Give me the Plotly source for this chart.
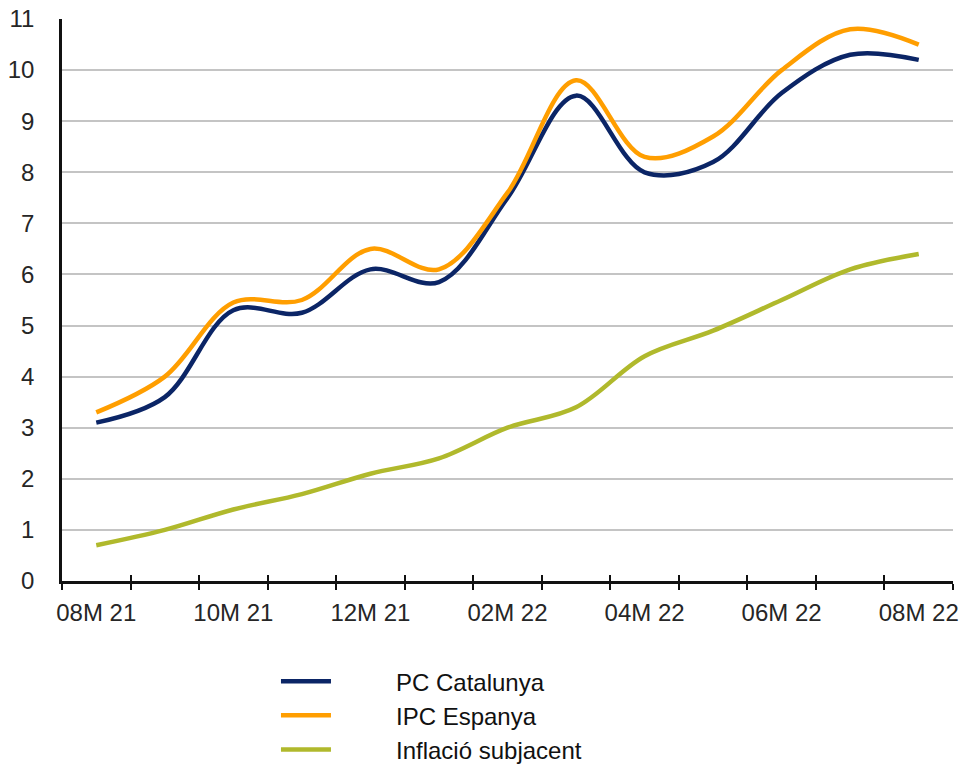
import plotly.graph_objects as go

months = ["08M 21", "09M 21", "10M 21", "11M 21", "12M 21", "01M 22", "02M 22",
          "03M 22", "04M 22", "05M 22", "06M 22", "07M 22", "08M 22"]
tick_text = [m if i % 2 == 0 else "" for i, m in enumerate(months)]
y_ticks = list(range(0, 12))
y_grid = list(range(1, 11))

pc_catalunya = [3.1, 3.6, 5.3, 5.25, 6.1, 5.85, 7.5, 9.5, 8.0, 8.2, 9.55, 10.3, 10.2]
ipc_espanya = [3.3, 4.0, 5.45, 5.5, 6.5, 6.1, 7.6, 9.8, 8.3, 8.7, 10.0, 10.8, 10.5]
inflacio_subjacent = [0.7, 1.0, 1.4, 1.7, 2.1, 2.4, 3.0, 3.4, 4.4, 4.9, 5.5, 6.1, 6.4]

series = [
    ("PC Catalunya", pc_catalunya, "#0B2566"),
    ("IPC Espanya", ipc_espanya, "#FF9E00"),
    ("Inflació subjacent", inflacio_subjacent, "#B0B92C"),
]

PAD = "\u00a0" * 9

fig = go.Figure()
for name, vals, color in series:
    fig.add_trace(go.Scatter(
        x=months, y=vals, name=PAD + name, mode="lines",
        line=dict(color=color, width=4.5, shape="spline", smoothing=1.0),
        legendgroup=name,
    ))

FAMILY = "Liberation Sans, Arial, sans-serif"
font = dict(family=FAMILY, size=24, color="#262626")

fig.update_layout(
    width=969, height=769,
    margin=dict(l=62, r=16, t=19, b=188, autoexpand=False),
    paper_bgcolor="white", plot_bgcolor="white",
    font=font,
    showlegend=True,
    legend=dict(
        xref="container", yref="container",
        x=0.2848, y=0.1430, xanchor="left", yanchor="top",
        font=dict(family=FAMILY, size=24, color="#111111"),
        itemwidth=50, tracegroupgap=0, bgcolor="rgba(0,0,0,0)",
    ),
    xaxis=dict(
        type="category", categoryorder="array", categoryarray=months,
        range=[-0.5, 12.5],
        tickvals=months, ticktext=tick_text, tickangle=0,
        tickson="boundaries", ticks="outside", ticklen=6, tickwidth=2, tickcolor="#111111",
        showline=True, linecolor="#111111", linewidth=2.5,
        showgrid=False, zeroline=False,
        ticklabelstandoff=8, automargin=False,
    ),
    xaxis2=dict(
        type="category", categoryorder="array", categoryarray=months,
        range=[-0.5, 12.5], overlaying="x", anchor="y", side="bottom",
        tickvals=months, ticktext=["" for _ in months], showticklabels=False,
        tickson="boundaries", ticks="inside", ticklen=6, tickwidth=2, tickcolor="#111111",
        showline=False, showgrid=False, zeroline=False, matches="x", automargin=False,
    ),
    yaxis=dict(
        range=[0, 11], tickvals=y_ticks,
        showgrid=False,
        minor=dict(tickvals=y_grid, showgrid=True, gridcolor="#C4C4C4", gridwidth=1.5, ticks=""),
        showline=True, linecolor="#111111", linewidth=2.5,
        ticks="", zeroline=False,
        ticklabelstandoff=20, automargin=False,
    ),
)
fig.add_trace(go.Scatter(x=months, y=[None] * len(months), xaxis="x2", showlegend=False,
                         hoverinfo="skip", mode="lines"))

fig.write_html("out.html", config={"displayModeBar": False},
               post_script="document.body.style.margin='0';")
